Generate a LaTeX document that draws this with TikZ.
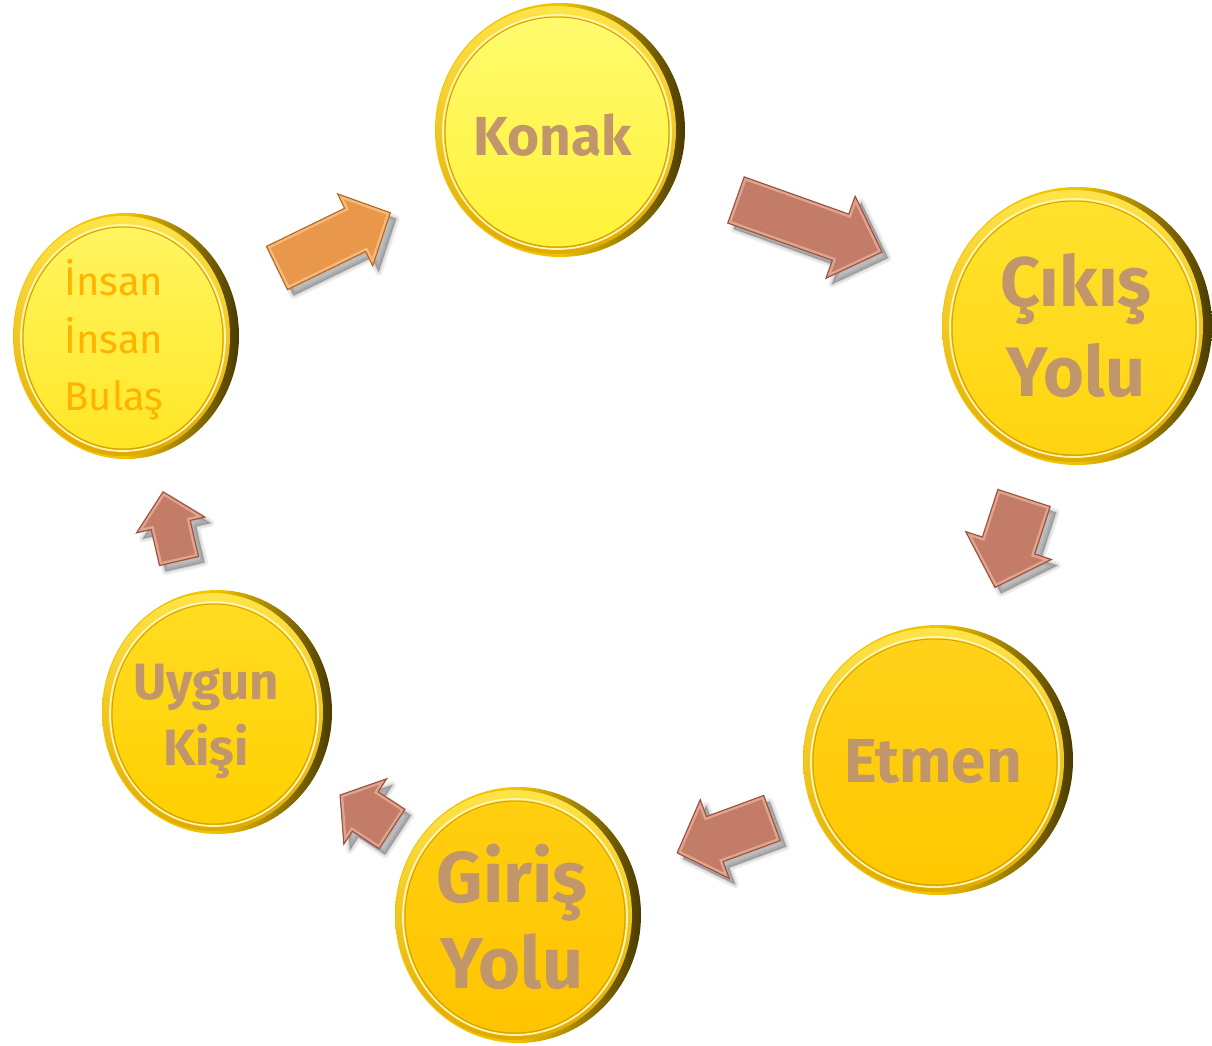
\documentclass[tikz,border=0pt]{standalone}
\usepackage{fontspec}
\setmainfont{Fira Sans}
\usetikzlibrary{shapes.geometric,calc}
\definecolor{txtbrown}{HTML}{C0966A}
\definecolor{txtorange}{HTML}{FFB300}
\definecolor{sideL}{HTML}{F2C400}
\definecolor{sideR}{HTML}{4A3C00}
\definecolor{rimT}{HTML}{FFE448}
\definecolor{rimB}{HTML}{E2AA00}
\definecolor{ringC}{HTML}{FFF6B0}
\definecolor{faceEdge}{HTML}{D8A200}
\definecolor{fKt}{HTML}{FFFB6E}\definecolor{fKb}{HTML}{FFF23A}
\definecolor{fIt}{HTML}{FFF560}\definecolor{fIb}{HTML}{FFE626}
\definecolor{fCt}{HTML}{FFE22E}\definecolor{fCb}{HTML}{FFD410}
\definecolor{fEt}{HTML}{FFD21A}\definecolor{fEb}{HTML}{FFC800}
\definecolor{fGt}{HTML}{FFCF10}\definecolor{fGb}{HTML}{FFC400}
\definecolor{fUt}{HTML}{FFDC22}\definecolor{fUb}{HTML}{FFD000}
\definecolor{arrBrown}{HTML}{C27C68}
\definecolor{arrBrownE}{HTML}{9A5644}
\definecolor{arrBrownL}{HTML}{E2A48E}
\definecolor{arrOrange}{HTML}{E9974B}
\definecolor{arrOrangeE}{HTML}{B86A28}
\definecolor{arrOrangeL}{HTML}{F8BA7A}
\tikzset{
  coinside/.style={ellipse, inner sep=0pt, left color=sideL, right color=sideR, middle color=sideL},
  coinrim/.style={ellipse, inner sep=0pt, top color=rimT, bottom color=rimB},
  coinring/.style={ellipse, inner sep=0pt, draw=ringC, line width=1.8pt},
  coinface/.style={ellipse, inner sep=0pt, draw=faceEdge, line width=1pt},
  cointext/.style={align=center, text=txtbrown, font=\bfseries},
  brownfill/.style={fill=arrBrown},
  brownedge/.style={draw=arrBrownE, line width=1.2pt, line join=miter},
  brownbevel/.style={draw=arrBrownL, line width=6pt, line join=miter},
  orangefill/.style={fill=arrOrange},
  orangeedge/.style={draw=arrOrangeE, line width=1.2pt, line join=miter},
  orangebevel/.style={draw=arrOrangeL, line width=6pt, line join=miter},
  arrshadowA/.style={fill=black, fill opacity=0.10, draw=black, draw opacity=0.08, line width=7pt, line join=round},
  arrshadowB/.style={fill=black, fill opacity=0.18, draw=black, draw opacity=0.10, line width=2.5pt, line join=round}
}
% #1 name, #2 cx, #3 cy, #4 rx, #5 ry, #6 face top, #7 face bottom
\newcommand\mycoin[7]{%
  \node[coinside, minimum width=2*#4pt, minimum height=2*#5pt] (#1) at (#2,#3) {};
  \node[coinrim, minimum width=2*#4pt-10pt, minimum height=2*#5pt-6pt] (#1-rim) at ($(#1.center)+(-4,0)$) {};
  \node[coinring, minimum width=2*#4pt-22pt, minimum height=2*#5pt-20pt] (#1-ring) at ($(#1.center)+(-3,2)$) {};
  \node[coinface, top color=#6, bottom color=#7, minimum width=2*#4pt-26pt, minimum height=2*#5pt-24pt] (#1-face) at ($(#1.center)+(-3,2)$) {};
}
% arrow outline: #1 length, #2 shaft, #3 head width, #4 head length
\newcommand\myarrowpath[4]{(0,-#2/2) -- (#1-#4,-#2/2) -- (#1-#4,-#3/2) -- (#1,0) -- (#1-#4,#3/2) -- (#1-#4,#2/2) -- (0,#2/2) -- cycle}
% #1 style prefix, #2 tail coordinate, #3 angle, #4 length, #5 shaft, #6 head width, #7 head length
\newcommand\myblockarrow[7]{%
  \begin{scope}[shift={(#2)}, xshift=6pt, yshift=-6pt, rotate=#3]
    \path[arrshadowA] \myarrowpath{#4}{#5}{#6}{#7};
    \path[arrshadowB] \myarrowpath{#4}{#5}{#6}{#7};
  \end{scope}
  \begin{scope}[shift={(#2)}, rotate=#3]
    \path[#1fill] \myarrowpath{#4}{#5}{#6}{#7};
    \begin{scope}
      \clip \myarrowpath{#4}{#5}{#6}{#7};
      \path[#1bevel] \myarrowpath{#4}{#5}{#6}{#7};
    \end{scope}
    \path[#1edge] \myarrowpath{#4}{#5}{#6}{#7};
  \end{scope}
}
\begin{document}
\begin{tikzpicture}[x=1pt,y=-1pt]
\useasboundingbox (0,0) rectangle (1212,1045);
\fill[white] (0,0) rectangle (1212,1045);

% coins
\mycoin{konak}{560}{130}{125}{127}{fKt}{fKb}
\mycoin{cikis}{1077}{326}{135}{139}{fCt}{fCb}
\mycoin{etmen}{938}{760}{135}{135}{fEt}{fEb}
\mycoin{giris}{518}{915}{123}{128}{fGt}{fGb}
\mycoin{uygun}{217}{712}{115}{122}{fUt}{fUb}
\mycoin{insan}{126}{336}{113}{123}{fIt}{fIb}

% labels
\node[cointext, anchor=base, font=\bfseries\fontsize{55}{60}\selectfont] (tkonak) at (553,155) {Konak};
\node[cointext, font=\bfseries\fontsize{70}{90}\selectfont] (tcikis) at (1076,326) {Çıkış\\Yolu};
\node[cointext, anchor=base, font=\bfseries\fontsize{62}{70}\selectfont] (tetmen) at (933,782) {Etmen};
\node[cointext, font=\bfseries\fontsize{72}{86}\selectfont] (tgiris) at (512,917) {Giriş\\Yolu};
\node[cointext, font=\bfseries\fontsize{51}{66}\selectfont] (tuygun) at (206,721) {Uygun\\Kişi};
\node[cointext, text=txtorange, font=\fontsize{40}{57.5}\selectfont] (tinsan) at (114,340) {İnsan\\İnsan\\Bulaş};

% connectors (block arrows)
\coordinate (a1) at (277,268);
\coordinate (a2) at (736,200);
\coordinate (a3) at (1024,498);
\coordinate (a4) at (772,818);
\coordinate (a5) at (392,829);
\coordinate (a6) at (179,561);
\myblockarrow{orange}{a1}{26}{126}{48}{80}{39}
\myblockarrow{brown}{a2}{-19.6}{155}{49}{87}{44}
\myblockarrow{brown}{a3}{-108}{94}{55}{90}{44}
\myblockarrow{brown}{a4}{-159.8}{101}{48}{84}{40}
\myblockarrow{brown}{a5}{146.8}{62}{47}{78}{30}
\myblockarrow{brown}{a6}{103}{71}{40}{70}{34}
\end{tikzpicture}
\end{document}
